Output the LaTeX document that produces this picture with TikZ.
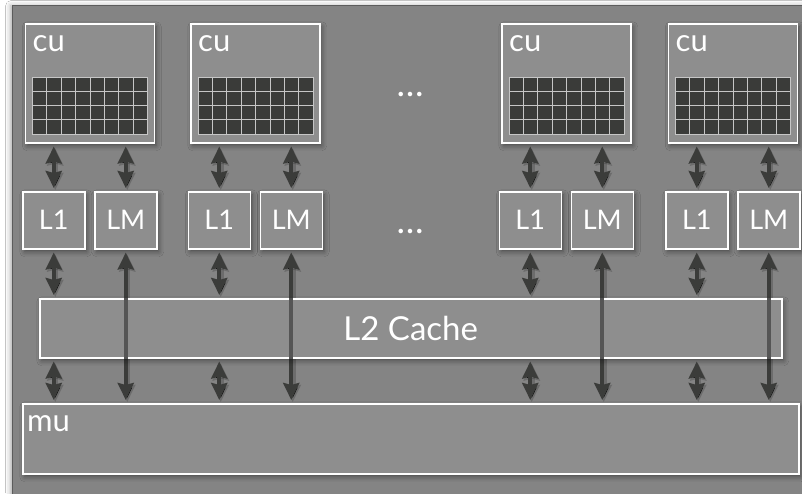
\documentclass[tikz,border=0pt]{standalone}
\usepackage{fontspec}
\setmainfont{Lato}
\usetikzlibrary{arrows.meta,calc,shadows.blur}
\definecolor{framebg}{HTML}{848484}
\definecolor{frameline}{HTML}{5C5C5C}
\definecolor{boxbg}{HTML}{8E8E8E}
\definecolor{arrowc}{HTML}{3B3C3A}
\definecolor{cellc}{HTML}{3A3B39}
\definecolor{cellline}{HTML}{C6C6C6}
\definecolor{throughc}{HTML}{555555}
\tikzset{
  bihead/.tip={Stealth[length=17pt,width=16pt,inset=2pt]}
}
\begin{document}
\begin{tikzpicture}[x=1pt,y=-1pt,
  framebox/.style={draw=frameline, line width=1.4pt, fill=framebg, inner sep=0pt,
    blur shadow={shadow xshift=-2pt, shadow yshift=0pt, shadow blur radius=5pt, shadow opacity=35}},
  box/.style={draw=white, line width=1.5pt, fill=boxbg, inner sep=0pt, text=white,
    blur shadow={shadow xshift=2pt, shadow yshift=-3pt, shadow blur radius=5pt, shadow opacity=45}},
  cubox/.style={box, anchor=north west, minimum width=129pt, minimum height=119pt},
  membox/.style={box, anchor=north west, minimum width=62pt, minimum height=57pt,
    font=\fontsize{27}{27}\selectfont},
  bigtext/.style={text=white, inner sep=0pt, font=\fontsize{31}{31}\selectfont},
  dots/.style={text=white, inner sep=0pt, font=\fontsize{36}{36}\selectfont},
  cell/.style={fill=cellc, draw=cellline, line width=0.9pt},
  biarrow/.style={draw=arrowc, line width=3.6pt, bihead-bihead,
    shorten <=3pt, shorten >=3pt,
    preaction={draw=black, draw opacity=0.18, line width=6pt,
      transform canvas={xshift=1.5pt, yshift=-2pt}}},
  throughline/.style={draw=throughc, line width=3.6pt}
]
\useasboundingbox (0,0) rectangle (802,493);
\fill[white] (0,0) rectangle (802,493);
\node[framebox, anchor=north west, minimum width=800pt, minimum height=500pt] (frame) at (12,5) {};

% compute units and memory boxes
\foreach \k/\c in {1/89, 2/254.5, 3/565.5, 4/732} {
  \node[cubox] (cu\k) at (\c-64.5,23) {};
  \node[bigtext, anchor=base west] (cut\k) at ($(cu\k.north west)+(8,28)$) {cu};
  \foreach \i in {0,...,7} {
    \foreach \j in {0,...,3} {
      \filldraw[cell] ($(cu\k.north west)+(8+\i*14.4,54+\j*14.25)$) rectangle ++(14.4,14.25);
    }
  }
  \node[membox] (L1\k) at (\c-67,191) {L1};
  \node[membox] (LM\k) at (\c+5,191) {LM};
}

\node[dots, anchor=base] (dotsA) at (410,96) {…};
\node[dots, anchor=base] (dotsB) at (410,233) {…};

\node[box, anchor=north west, minimum width=776pt, minimum height=70pt] (mu) at (22,403) {};
\node[bigtext, anchor=base west] (mut) at ($(mu.north west)+(5,28)$) {mu};

% LM to mu connectors (pass beneath the L2 cache)
\foreach \k in {1,2,3,4} {
  \draw[biarrow] (LM\k.south) -- (LM\k.south |- mu.north);
}

\node[box, anchor=north west, minimum width=742pt, minimum height=59pt,
  font=\fontsize{33}{33}\selectfont] (L2) at (39,298) {L2 Cache};

\foreach \k in {1,2,3,4} {
  \draw[throughline] (LM\k.south |- L2.north) -- (LM\k.south |- L2.south);
  \draw[biarrow] (L1\k.north |- cu\k.south) -- (L1\k.north);
  \draw[biarrow] (LM\k.north |- cu\k.south) -- (LM\k.north);
  \draw[biarrow] (L1\k.south) -- (L1\k.south |- L2.north);
  \draw[biarrow] (L1\k.south |- L2.south) -- (L1\k.south |- mu.north);
}
\end{tikzpicture}
\end{document}
